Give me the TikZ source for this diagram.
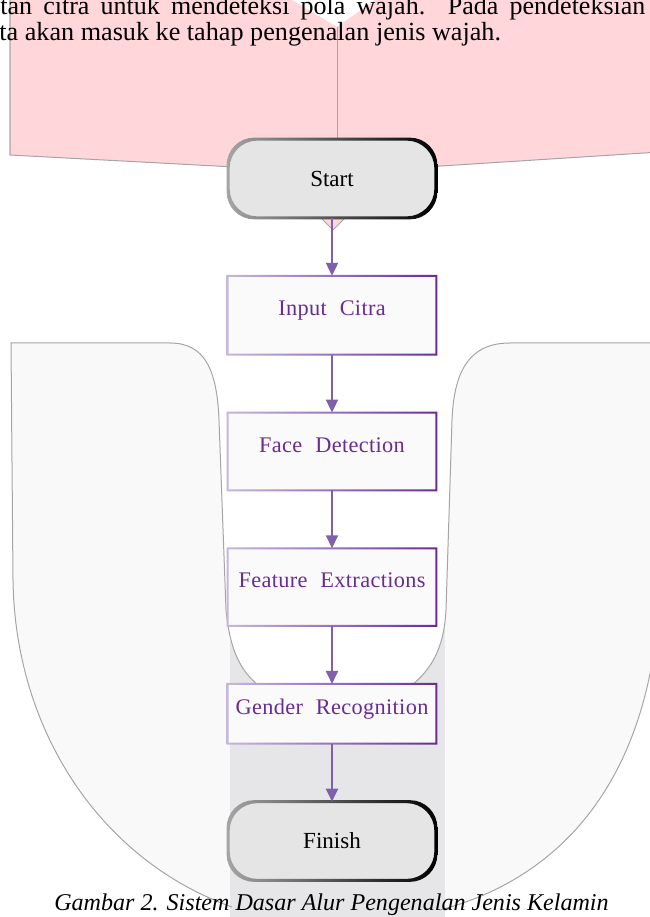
\documentclass[tikz,border=0pt]{standalone}
\usepackage{fontspec}
\setmainfont{Liberation Serif}
\newfontfamily\kotakfont[WordSpace=2.2,LetterSpace=1.5]{Liberation Serif}
\usepackage{tikz}
\usetikzlibrary{arrows.meta, positioning}

\definecolor{merahmuda}{RGB}{255,214,218}
\definecolor{ungu}{RGB}{104,44,148}
\definecolor{unguterang}{RGB}{198,184,220}
\definecolor{ungupanah}{RGB}{128,96,170}
\definecolor{abuisi}{RGB}{249,249,249}
\definecolor{abujalur}{RGB}{230,230,233}
\definecolor{abugaris}{RGB}{165,165,165}
\definecolor{abuterminal}{RGB}{229,229,229}

% bingkai bergradasi: node, warna kiri, warna kanan, setengah tebal, sudut
\newcommand{\bingkai}[5]{%
  \shade[left color=#2, right color=#3, even odd rule, #5]
    ([shift={(-#4,#4)}]#1.north west) rectangle ([shift={(#4,-#4)}]#1.south east)
    ([shift={(#4,-#4)}]#1.north west) rectangle ([shift={(-#4,#4)}]#1.south east);}

\begin{document}
\begin{tikzpicture}[
    terminal/.style={rounded corners=0.55cm, fill=abuterminal, minimum width=4.14cm,
      minimum height=1.56cm, font=\fontsize{13.1pt}{15pt}\selectfont},
    proses/.style={fill=white!98!black, minimum width=4.16cm, text=ungu,
      font=\kotakfont\fontsize{12.7pt}{14pt}\selectfont, text height=0.33cm, text depth=0.3cm},
    alur/.style={-{Triangle[length=0.26cm,width=0.24cm]}, line width=0.04cm, ungupanah},
    garis/.style={abugaris, line width=0.02cm},
    node distance=1.16cm
  ]
  \useasboundingbox (0,0) rectangle (13,-18.34);
  \clip (0,0) rectangle (13,-18.34);

  % latar merah muda di atas
  \fill[merahmuda] (0.2,0) -- (5.84,0) -- (6.74,-0.54) -- (7.5,0) -- (13.2,0) -- (13.2,-3.04)
    -- (7.88,-3.38) -- (6.66,-4.6) -- (5.44,-3.38) -- (0.2,-3.1) -- cycle;
  \draw[garis] (0.2,0) -- (0.2,-3.1) -- (5.44,-3.38) -- (6.66,-4.6) -- (7.88,-3.38) -- (13.2,-3.04);
  \draw[garis] (6.74,-0.54) -- (6.74,-2.78);

  % bentuk U abu-abu
  \fill[abuisi] (0.22,-6.86) -- (3.4,-6.86) .. controls (4.1,-6.86) and (4.34,-7.4) .. (4.38,-8.4)
    -- (4.52,-12.2) .. controls (4.6,-13) and (4.8,-13.4) .. (5.16,-13.7) -- (8.24,-13.7)
    .. controls (8.6,-13.4) and (8.88,-13) .. (8.92,-12.2) -- (9.04,-8.4)
    .. controls (9.08,-7.4) and (9.4,-6.86) .. (10.2,-6.86) -- (13.2,-6.86) -- (13.2,-11.2)
    .. controls (13.24,-14.8) and (11.8,-17.4) .. (8.8,-18.2) -- (8.8,-18.6) -- (4.64,-18.6)
    -- (4.64,-18.14) .. controls (2,-17.2) and (0.3,-14.6) .. (0.26,-11.6) -- cycle;
  \fill[abujalur] (4.6,-12) rectangle (8.9,-18.6);
  \fill[white] (4.38,-6.5) -- (4.38,-8.4) -- (4.52,-12.2) .. controls (4.6,-13) and (4.8,-13.4) .. (5.16,-13.7)
    -- (8.24,-13.7) .. controls (8.6,-13.4) and (8.88,-13) .. (8.92,-12.2) -- (9.04,-8.4) -- (9.04,-6.5) -- cycle;
  \draw[garis] (4.64,-18.14) .. controls (2,-17.2) and (0.3,-14.6) .. (0.26,-11.6) -- (0.22,-6.86)
    -- (3.4,-6.86) .. controls (4.1,-6.86) and (4.34,-7.4) .. (4.38,-8.4)
    -- (4.52,-12.2) .. controls (4.6,-13) and (4.8,-13.4) .. (5.16,-13.7) -- (8.24,-13.7)
    .. controls (8.6,-13.4) and (8.88,-13) .. (8.92,-12.2) -- (9.04,-8.4)
    .. controls (9.08,-7.4) and (9.4,-6.86) .. (10.2,-6.86) -- (13.2,-6.86);
  \draw[garis] (13.2,-11.2) .. controls (13.24,-14.8) and (11.8,-17.4) .. (8.8,-18.2);

  % potongan teks paragraf
  \node[anchor=base west, inner sep=0, font=\fontsize{14.8pt}{16pt}\selectfont] (baris1) at (0,-0.3)
    {\makebox[12.9cm][s]{tan citra untuk mendeteksi pola wajah. Pada pendeteksian}};
  \node[anchor=base west, inner sep=0, font=\fontsize{14.9pt}{16pt}\selectfont] (baris2) at (-0.02,-0.82)
    {ta akan masuk ke tahap pengenalan jenis wajah.};

  % diagram alur
  \node[terminal] (start) at (6.64,-3.57) {Start};
  \node[proses, minimum height=1.56cm, below=of start] (input) {Input Citra};
  \node[proses, minimum height=1.54cm, below=of input] (face) {Face Detection};
  \node[proses, minimum height=1.54cm, below=of face] (feature) {Feature Extractions};
  \node[proses, minimum height=1.18cm, below=of feature] (gender) {Gender Recognition};
  \node[terminal, below=of gender] (finish) {Finish};

  \foreach \n in {input,face,feature,gender}
    \bingkai{\n}{unguterang}{ungu}{0.02}{sharp corners};
  \foreach \n in {start,finish}
    \bingkai{\n}{abugaris}{black}{0.03}{rounded corners=0.55cm};

  \foreach \a/\b in {start/input, input/face, face/feature, feature/gender, gender/finish}
    \draw[alur] (\a) -- (\b);

  \node[anchor=base, font=\itshape\fontsize{13.7pt}{15pt}\selectfont] (judul) at (6.63,-18.2)
    {Gambar 2. Sistem Dasar Alur Pengenalan Jenis Kelamin};
\end{tikzpicture}
\end{document}
